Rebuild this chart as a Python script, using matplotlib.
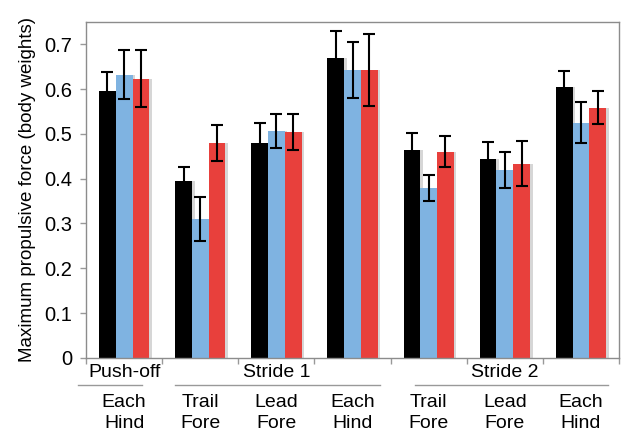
import numpy as np
import matplotlib
matplotlib.use("Agg")
import matplotlib.pyplot as plt
import matplotlib.transforms as mtransforms

plt.rcParams["font.family"] = ["Liberation Sans", "DejaVu Sans"]

# bar heights and error bars per group (body weights)
groups = ["Push-off\nEach Hind", "Trail Fore", "Lead Fore", "Each Hind",
          "Trail Fore", "Lead Fore", "Each Hind"]
black = [0.595, 0.395, 0.48, 0.67, 0.465, 0.443, 0.605]
black_err = [0.042, 0.031, 0.045, 0.06, 0.037, 0.038, 0.035]
blue = [0.632, 0.31, 0.507, 0.643, 0.38, 0.42, 0.525]
blue_err = [0.055, 0.05, 0.038, 0.062, 0.029, 0.04, 0.045]
red = [0.623, 0.48, 0.505, 0.643, 0.46, 0.433, 0.558]
red_err = [0.063, 0.04, 0.04, 0.08, 0.035, 0.05, 0.037]

lower_labels = ["Each\nHind", "Trail\nFore", "Lead\nFore", "Each\nHind",
                "Trail\nFore", "Lead\nFore", "Each\nHind"]
# (label, center, line start, line end) in group units
phases = [("Push-off", 0.0, -0.6, 0.24),
          ("Stride 1", 2.0, 0.67, 3.36),
          ("Stride 2", 5.0, 3.82, 6.36)]

yticks = [0, 0.1, 0.2, 0.3, 0.4, 0.5, 0.6, 0.7]
ytick_labels = ["0", "0.1", "0.2", "0.3", "0.4", "0.5", "0.6", "0.7"]

fig = plt.figure(figsize=(6.24, 4.36), dpi=100)
ax = fig.add_axes([0.138, 0.179, 0.854, 0.771])

x = np.arange(len(groups))
w = 0.22
series = [(black, black_err, "#000000"),
          (blue, blue_err, "#7fb3e1"),
          (red, red_err, "#e8403c")]

for k, (vals, errs, col) in enumerate(series):
    pos = x + (k - 1) * w
    # soft shadow to the right of each bar
    ax.bar(pos + 0.035, vals, w, color="#d6d6d6", zorder=1)
    ax.bar(pos, vals, w, color=col, zorder=2)
    ax.errorbar(pos, vals, yerr=errs, fmt="none", ecolor="black",
                elinewidth=1.5, capsize=4.5, capthick=1.5, zorder=3)

ax.set_xlim(-0.5, 6.5)
ax.set_ylim(0, 0.75)
ax.set_yticks(yticks)
ax.set_yticklabels(ytick_labels, fontsize=14.5)
ax.set_xticks(np.arange(-0.5, 7, 1))
ax.set_xticklabels([])
ax.tick_params(axis="both", color="#999999", length=4, width=1)
ax.tick_params(axis="y", pad=6)
for s in ax.spines.values():
    s.set_color("#8c8c8c")
    s.set_linewidth(1)

ax.set_ylabel("Maximum propulsive force (body weights)", fontsize=13.5, labelpad=6)

tr = mtransforms.blended_transform_factory(ax.transData, fig.transFigure)
for name, cx, x0, x1 in phases:
    ax.text(cx, 1 - 372 / 436, name, transform=tr, ha="center", va="center",
            fontsize=14)
    ax.plot([x0, x1], [1 - 385 / 436] * 2, transform=tr, color="#999999",
            lw=1, clip_on=False)

for xi, lab in zip(x, lower_labels):
    ax.text(xi, 1 - 413 / 436, lab, transform=tr, ha="center", va="center",
            fontsize=14, linespacing=1.35)

fig.savefig("out.png", dpi=100)
